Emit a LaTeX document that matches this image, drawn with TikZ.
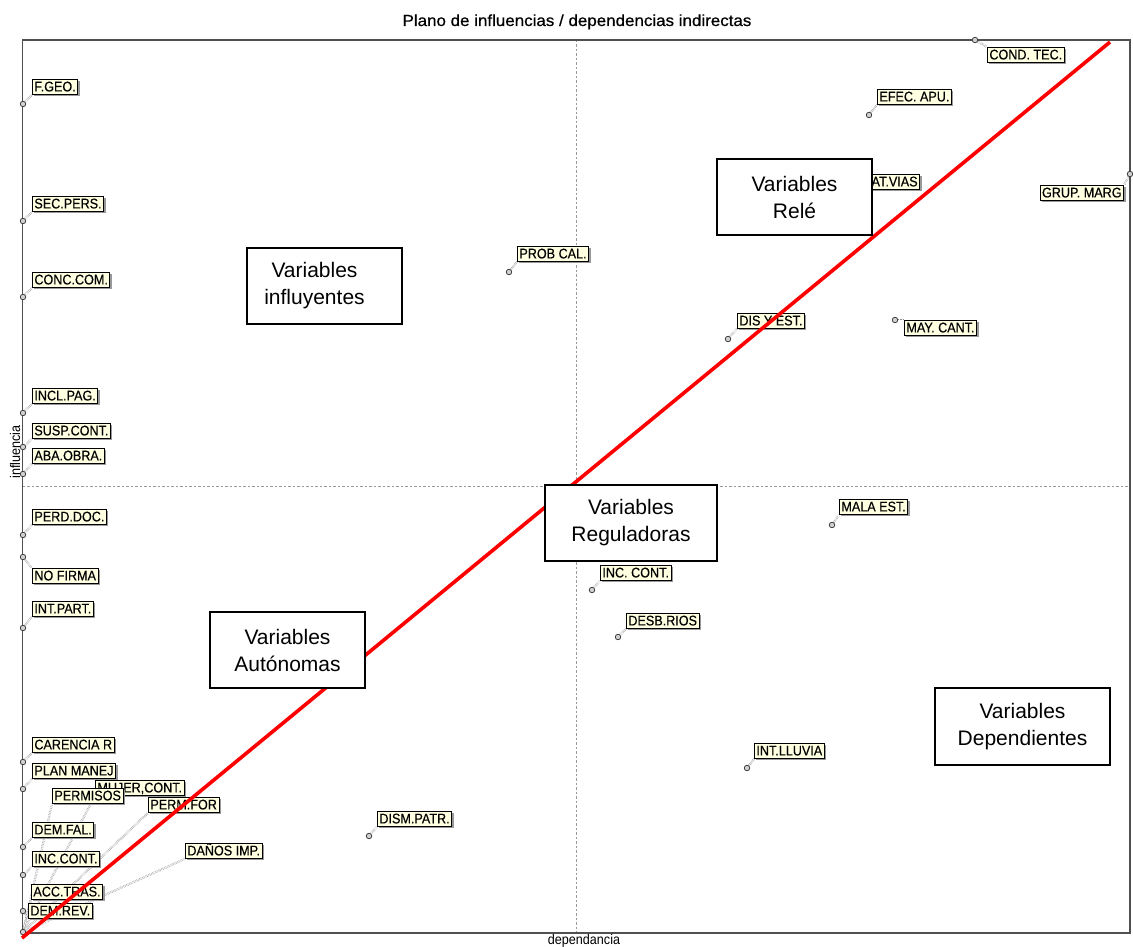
\documentclass[tikz,border=0pt]{standalone}
\usepackage{fontspec}
\setmainfont{Liberation Sans}
\newfontfamily\lblfont[FakeStretch=0.9,FakeBold=0.4]{Liberation Sans}
\newfontfamily\axfont[FakeStretch=0.9]{Liberation Sans}
\newfontfamily\ttlfont[FakeStretch=1.06,FakeBold=0.6]{Liberation Sans}
\usetikzlibrary{shadows}
\pgfdeclarelayer{bg}
\pgfsetlayers{bg,main}
\definecolor{cream}{HTML}{FFFFE1}
\definecolor{framegray}{HTML}{505050}
\definecolor{pred}{HTML}{FF0000}
\tikzset{
 lbl/.style={draw=black, line width=0.8pt, fill=cream,
   font=\lblfont\fontsize{14}{14}\selectfont,
   inner xsep=2pt, inner ysep=2pt, text height=10pt, text depth=1pt,
   general shadow={fill=gray!80, shadow xshift=2pt, shadow yshift=-2pt}},
 pt/.style={circle, draw=black!75, fill=gray!35, line width=0.8pt,
   minimum size=5.5pt, inner sep=0pt},
 leader/.style={draw=gray!90, densely dotted, double=white,
   double distance=0.9pt, line width=0.6pt},
 bigbox/.style={draw=black, line width=1.3pt, fill=white, align=center,
   font=\fontsize{21}{27}\selectfont, inner sep=0pt},
 axislbl/.style={font=\axfont\fontsize{14}{14}\selectfont, inner sep=0pt},
 ttl/.style={font=\ttlfont\fontsize{16}{16}\selectfont, inner sep=0pt},
 redline/.style={draw=pred, line width=3.6pt},
 framel/.style={draw=framegray, line width=1.1pt},
 midl/.style={draw=gray!80, line width=0.6pt, dash pattern=on 2.5pt off 2pt}
}
\begin{document}
\begin{tikzpicture}[x=1pt,y=-1pt]
\useasboundingbox (0,0) rectangle (1133,947);
% frame and mid lines
\draw[midl] (576,40) -- (576,933);
\draw[midl] (22.5,486) -- (1130,486);
\draw[framel] (22.5,40) rectangle (1130,933);

% points
\node[pt] (p1) at (23,104) {};
\node[pt] (p2) at (23,221) {};
\node[pt] (p3) at (23,297) {};
\node[pt] (p4) at (23,413) {};
\node[pt] (p5) at (23,447) {};
\node[pt] (p6) at (23,474) {};
\node[pt] (p7) at (23,535) {};
\node[pt] (p8) at (23,557) {};
\node[pt] (p9) at (23,628) {};
\node[pt] (p10) at (23,762) {};
\node[pt] (p11) at (23,789) {};
\node[pt] (p15) at (23,847) {};
\node[pt] (p16) at (23,875) {};
\node[pt] (p19) at (23,911) {};
\node[pt] (p0) at (23,932) {};
\node[pt] (p20) at (975,40) {};
\node[pt] (p21) at (869,115) {};
\node[pt] (p23) at (1130,174) {};
\node[pt] (p24) at (509,272) {};
\node[pt] (p25) at (728,339) {};
\node[pt] (p26) at (895,320) {};
\node[pt] (p27) at (832,525) {};
\node[pt] (p28) at (592,590) {};
\node[pt] (p29) at (618,637) {};
\node[pt] (p30) at (369,836) {};
\node[pt] (p31) at (747,768) {};

% labels
\node[lbl, anchor=north west] (l1) at (32,79) {F.GEO.};
\node[lbl, anchor=north west] (l2) at (32,196) {SEC.PERS.};
\node[lbl, anchor=north west] (l3) at (32,272) {CONC.COM.};
\node[lbl, anchor=north west] (l4) at (32,388) {INCL.PAG.};
\node[lbl, anchor=north west] (l5) at (32,423) {SUSP.CONT.};
\node[lbl, anchor=north west] (l6) at (32,448) {ABA.OBRA.};
\node[lbl, anchor=north west] (l7) at (32,509) {PERD.DOC.};
\node[lbl, anchor=north west] (l8) at (32,568) {NO FIRMA};
\node[lbl, anchor=north west] (l9) at (32,601) {INT.PART.};
\node[lbl, anchor=north west] (l10) at (32,737) {CARENCIA R};
\node[lbl, anchor=north west] (l12) at (95,780) {MUJER,CONT.};
\node[lbl, anchor=north west] (l11) at (32,763) {PLAN MANEJ};
\node[lbl, anchor=north west] (l13) at (52,788) {PERMISOS};
\node[lbl, anchor=north west] (l14) at (148,797) {PERM.FOR};
\node[lbl, anchor=north west] (l15) at (32,822) {DEM.FAL.};
\node[lbl, anchor=north west] (l16) at (32,851) {INC.CONT.};
\node[lbl, anchor=north west] (l17) at (185,843) {DAÑOS IMP.};
\node[lbl, anchor=north west] (l18) at (31,884) {ACC.TRAS.};
\node[lbl, anchor=north west] (l19) at (28,903) {DEM.REV.};
\node[lbl, anchor=north west] (l20) at (987,47) {COND. TEC.};
\node[lbl, anchor=north west] (l21) at (877,89) {EFEC. APU.};
\node[lbl, anchor=north east] (l22) at (920,174) {AT.VIAS};
\node[lbl, anchor=north east] (l23) at (1124,185) {GRUP. MARG};
\node[lbl, anchor=north west] (l24) at (517,246) {PROB CAL.};
\node[lbl, anchor=north west] (l25) at (737,313) {DIS Y EST.};
\node[lbl, anchor=north west] (l26) at (904,320) {MAY. CANT.};
\node[lbl, anchor=north west] (l27) at (839,499) {MALA EST.};
\node[lbl, anchor=north west] (l28) at (600,565) {INC. CONT.};
\node[lbl, anchor=north west] (l29) at (626,613) {DESB.RIOS};
\node[lbl, anchor=north west] (l30) at (377,811) {DISM.PATR.};
\node[lbl, anchor=north west] (l31) at (754,743) {INT.LLUVIA};

% leaders (behind)
\begin{pgfonlayer}{bg}
\draw[leader] (p1) -- (l1.south west);
\draw[leader] (p2) -- (l2.south west);
\draw[leader] (p3) -- (l3.south west);
\draw[leader] (p4) -- (l4.south west);
\draw[leader] (p5) -- (l5.south west);
\draw[leader] (p6) -- (l6.south west);
\draw[leader] (p7) -- (l7.south west);
\draw[leader] (p8) -- (l8.north west);
\draw[leader] (p9) -- (l9.south west);
\draw[leader] (p10) -- (l10.south west);
\draw[leader] (p11) -- (l11.south west);
\draw[leader] (p0) -- (l12.south west);
\draw[leader] (p0) -- (l13.south west);
\draw[leader] (p0) -- (l14.south west);
\draw[leader] (p15) -- (l15.south west);
\draw[leader] (p16) -- (l16.south west);
\draw[leader] (p0) -- (l17.south west);
\draw[leader] (p0) -- (l18.south west);
\draw[leader] (p19) -- (l19.south west);
\draw[leader] (p20) -- (l20.north west);
\draw[leader] (p21) -- (l21.south west);
\draw[leader] (p23) -- (l23.north east);
\draw[leader] (p24) -- (l24.south west);
\draw[leader] (p25) -- (l25.south west);
\draw[leader] (p26) -- (l26.north west);
\draw[leader] (p27) -- (l27.south west);
\draw[leader] (p28) -- (l28.south west);
\draw[leader] (p29) -- (l29.south west);
\draw[leader] (p30) -- (l30.south west);
\draw[leader] (p31) -- (l31.south west);
\end{pgfonlayer}

% red diagonal
\coordinate (rs) at (22,938);
\coordinate (re) at (1110,42);
\draw[redline] (rs) -- (re);

% quadrant boxes
\node[bigbox, minimum width=155pt, minimum height=76pt] (binf) at (324.5,286) {Variables\hspace*{20pt}\\influyentes\hspace*{20pt}};
\node[bigbox, minimum width=155pt, minimum height=76pt] (brel) at (794.5,197) {Variables\\Relé};
\node[bigbox, minimum width=172pt, minimum height=76pt] (breg) at (631,523) {Variables\\Reguladoras};
\node[bigbox, minimum width=155pt, minimum height=76pt] (baut) at (287.5,650) {Variables\\Autónomas};
\node[bigbox, minimum width=175pt, minimum height=77pt] (bdep) at (1022.5,726.5) {Variables\\Dependientes};

% titles
\node[ttl, anchor=base] (title) at (577,26) {Plano de influencias / dependencias indirectas};
\node[axislbl, anchor=base] (xlab) at (584,944) {dependancia};
\node[axislbl, anchor=base, rotate=90] (ylab) at (20,452) {influencia};
\end{tikzpicture}
\end{document}
